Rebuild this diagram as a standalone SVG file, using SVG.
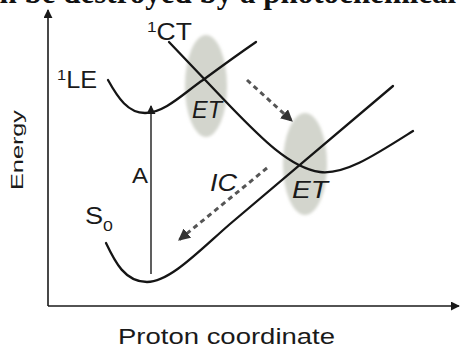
<svg xmlns="http://www.w3.org/2000/svg" width="461" height="348" viewBox="0 0 461 348">
<style>
.curve{fill:none;stroke:#151515;stroke-width:2.3;stroke-linecap:round}
.axis{fill:none;stroke:#1a1a1a;stroke-width:1.6}
.dash{fill:none;stroke:#555;stroke-width:3;stroke-dasharray:5 4}
.lbl{font-family:"Liberation Sans",Arial,sans-serif;fill:#1a1a1a}
.blob{fill:#d3d5cd}
</style>
<defs>
<marker id="ah" viewBox="0 0 10 10" refX="9" refY="5" markerWidth="9" markerHeight="9" markerUnits="userSpaceOnUse" orient="auto">
<path d="M0,0 L10,5 L0,10 Z" fill="#1a1a1a"/>
</marker>
<marker id="dh" viewBox="0 0 10 10" refX="9" refY="5" markerWidth="12" markerHeight="12" markerUnits="userSpaceOnUse" orient="auto">
<path d="M0,0 L10,5 L0,10 Z" fill="#333"/>
</marker>
<filter id="soft" x="-30%" y="-30%" width="160%" height="160%"><feGaussianBlur stdDeviation="1.5"/></filter>
</defs>
<rect width="461" height="348" fill="#fff"/>
<text x="-16" y="3" font-family="'Liberation Serif','Times New Roman',serif" font-weight="bold" font-size="31" fill="#111">an be destroyed by a photochemical r</text>

<g id="blob-upper"><ellipse class="blob" cx="206" cy="86" rx="21" ry="51" filter="url(#soft)"/></g>
<g id="blob-lower"><ellipse class="blob" cx="305" cy="164" rx="22" ry="51" filter="url(#soft)"/></g>

<g id="axes">
<line class="axis" x1="48" y1="306" x2="48" y2="10" marker-end="url(#ah)"/>
<line class="axis" x1="48" y1="306" x2="459" y2="306" marker-end="url(#ah)"/>
</g>

<g id="curve-LE"><path class="curve" d="M108,80 C118,98 128,113 145,113 C165,113 185,92 203,80 C222,66 240,53 256,42"/></g>
<g id="curve-CT"><path class="curve" d="M169,42 L230,106 C260,137 290,168 320,172 C345,175 375,155 413,131"/></g>
<g id="curve-S0"><path class="curve" d="M106,243 C115,262 125,282 147,282 C170,282 200,250 230,224 L393,86"/></g>

<g id="connectors">
<line x1="151" y1="274" x2="151" y2="106" stroke="#1a1a1a" stroke-width="1.4" marker-end="url(#ah)"/>
<line class="dash" x1="247" y1="80" x2="292" y2="121" marker-end="url(#dh)"/>
<line class="dash" x1="267" y1="168" x2="179" y2="240" marker-end="url(#dh)"/>
</g>

<g id="labels">
<text class="lbl" x="147" y="40" font-size="23" textLength="45" lengthAdjust="spacingAndGlyphs"><tspan font-size="15" dy="-8">1</tspan><tspan dy="8">CT</tspan></text>
<text class="lbl" x="57" y="88" font-size="23" textLength="40" lengthAdjust="spacingAndGlyphs"><tspan font-size="15" dy="-8">1</tspan><tspan dy="8">LE</tspan></text>
<text class="lbl" x="132" y="183" font-size="22" textLength="16" lengthAdjust="spacingAndGlyphs">A</text>
<text class="lbl" x="85" y="224" font-size="23" textLength="28" lengthAdjust="spacingAndGlyphs">S<tspan font-size="15" dy="7">0</tspan></text>
<text class="lbl" x="210" y="191" font-size="23" font-style="italic" textLength="27" lengthAdjust="spacingAndGlyphs">IC</text>
<text class="lbl" x="192" y="118" font-size="23" font-style="italic" textLength="30" lengthAdjust="spacingAndGlyphs">ET</text>
<text class="lbl" x="292" y="198" font-size="23" font-style="italic" textLength="36" lengthAdjust="spacingAndGlyphs">ET</text>
<text class="lbl" x="118" y="344" font-size="22" textLength="217" lengthAdjust="spacingAndGlyphs">Proton coordinate</text>
<text class="lbl" transform="translate(23,190) rotate(-90)" font-size="17" textLength="80" lengthAdjust="spacingAndGlyphs">Energy</text>
</g>
</svg>
